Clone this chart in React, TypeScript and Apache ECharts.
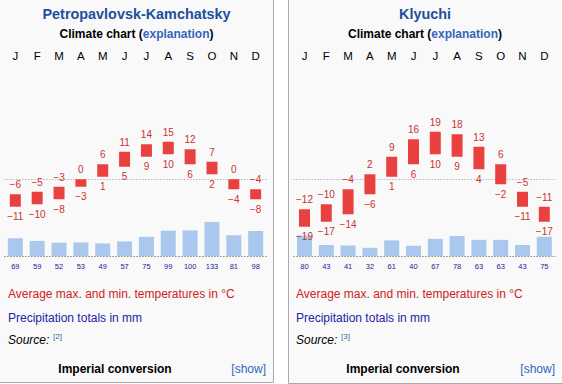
import React, { useEffect, useRef } from "react";
import * as echarts from "echarts";

const months = ["J", "F", "M", "A", "M", "J", "J", "A", "S", "O", "N", "D"];

const petroMax = [-6, -5, -3, 0, 6, 11, 14, 15, 12, 7, 0, -4];
const petroMin = [-11, -10, -8, -3, 1, 5, 9, 10, 6, 2, -4, -8];
const petroPrecip = [69, 59, 52, 53, 49, 57, 75, 99, 100, 133, 81, 98];

const klyuMax = [-12, -10, -4, 2, 9, 16, 19, 18, 13, 6, -5, -11];
const klyuMin = [-19, -17, -14, -6, 1, 6, 10, 9, 4, -2, -11, -17];
const klyuPrecip = [80, 43, 41, 32, 61, 40, 67, 78, 63, 63, 43, 75];

const FONT = "'Liberation Sans', Arial, sans-serif";
const TEMP_LABEL = "#c83232";
const TEMP_BAR = "#e8413f";
const PRECIP_BAR = "#aac8ee";
const PRECIP_LABEL = "#22229a";
const LINK = "#3366bb";
const TITLE = "#20509a";
const DOT = { type: [1, 2] as any, color: "#999", width: 1 };

const fmt = (v: number) => (v < 0 ? "\u2212" + Math.abs(v) : String(v));

function tempSeries(maxArr: number[], minArr: number[], xi: number, yi: number) {
  return {
    type: "custom",
    xAxisIndex: xi,
    yAxisIndex: yi,
    z: 5,
    data: maxArr.map((m, i) => [i, m, minArr[i]]),
    renderItem: (params: any, api: any) => {
      const x = api.value(0);
      const hi = api.value(1);
      const lo = api.value(2);
      const p1 = api.coord([x, hi]);
      const p2 = api.coord([x, lo]);
      const w = 11;
      return {
        type: "group",
        children: [
          {
            type: "rect",
            shape: { x: p1[0] - w / 2, y: p1[1], width: w, height: p2[1] - p1[1] },
            style: { fill: TEMP_BAR },
          },
          {
            type: "text",
            style: {
              text: fmt(hi),
              x: p1[0],
              y: p1[1] - 9.5,
              align: "center",
              verticalAlign: "middle",
              fill: TEMP_LABEL,
              fontSize: 10,
              fontFamily: FONT,
            },
          },
          {
            type: "text",
            style: {
              text: fmt(lo),
              x: p1[0],
              y: p2[1] + 10,
              align: "center",
              verticalAlign: "middle",
              fill: TEMP_LABEL,
              fontSize: 10,
              fontFamily: FONT,
            },
          },
        ],
      };
    },
    markLine: {
      silent: true,
      symbol: "none",
      label: { show: false },
      lineStyle: DOT,
      data: [{ yAxis: 0 }],
    },
  };
}

function precipSeries(arr: number[], xi: number, yi: number) {
  return {
    type: "bar",
    xAxisIndex: xi,
    yAxisIndex: yi,
    z: 2,
    barWidth: 15,
    data: arr,
    itemStyle: { color: PRECIP_BAR },
    label: {
      show: true,
      position: "bottom",
      distance: 6,
      fontSize: 7.5,
      color: PRECIP_LABEL,
      fontFamily: FONT,
    },
  };
}

function panelTexts(x0: number, x1: number, title: string, src: string) {
  const cx = (x0 + x1) / 2;
  const t = (
    x: number,
    y: number,
    text: string,
    fill: string,
    size: number,
    extra: any = {}
  ) => ({
    type: "text",
    x,
    y,
    z: 10,
    style: {
      text,
      fill,
      font: `${extra.style || "normal"} ${extra.weight || "normal"} ${size}px ${FONT}`,
      fontSize: size,
      fontWeight: extra.weight || "normal",
      fontStyle: extra.style || "normal",
      fontFamily: FONT,
      textAlign: extra.align || "left",
      textVerticalAlign: "middle",
    },
  });
  return [
    t(cx, 14, title, TITLE, 14.4, { weight: "bold", align: "center" }),
    {
      type: "text",
      x: cx,
      y: 34,
      z: 10,
      style: {
        text: "{b|Climate chart (}{l|explanation}{b|)}",
        textAlign: "center",
        textVerticalAlign: "middle",
        rich: {
          b: { fontSize: 12, fontWeight: "bold", fill: "#000", color: "#000", fontFamily: FONT },
          l: { fontSize: 12, fontWeight: "bold", fill: LINK, color: LINK, fontFamily: FONT },
        },
      },
    },
    t(x0 + 8, 294, "Average max. and min. temperatures in \u00B0C", "#cc2222", 12),
    t(x0 + 8, 317.5, "Precipitation totals in mm", "#2222aa", 12),
    t(x0 + 8, 340, "Source:", "#000", 12, { style: "italic" }),
    t(x0 + 53, 336, src, LINK, 8),
    t(x0 + 115, 369, "Imperial conversion", "#000", 12, { weight: "bold", align: "center" }),
    t(x1 - 7, 369, "[show]", LINK, 12, { align: "right" }),
  ];
}

export default function App() {
  const ref = useRef<HTMLDivElement>(null);
  useEffect(() => {
    if (!ref.current) return;
    const chart = echarts.init(ref.current, null, { renderer: "svg" });
    const gridTop = 70;
    const gridH = 186;
    const tMin = -30.7;
    const tMax = tMin + gridH / 2.5;
    const pMax = gridH / 0.256;

    const xAxes: any[] = [];
    const yAxes: any[] = [];
    [0, 1].forEach((g) => {
      xAxes.push({
        type: "category",
        gridIndex: g,
        data: months,
        position: "bottom",
        axisLine: { show: true, onZero: false, lineStyle: DOT },
        axisTick: { show: false },
        axisLabel: { show: false },
        splitLine: { show: false },
      });
      xAxes.push({
        type: "category",
        gridIndex: g,
        data: months,
        position: "top",
        axisLine: { show: false },
        axisTick: { show: false },
        axisLabel: { show: true, fontSize: 11.5, color: "#000", fontFamily: FONT, margin: 8, interval: 0 },
        splitLine: { show: false },
      });
      yAxes.push({
        type: "value",
        gridIndex: g,
        min: tMin,
        max: tMax,
        show: false,
        splitLine: { show: false },
      });
      yAxes.push({
        type: "value",
        gridIndex: g,
        min: 0,
        max: pMax,
        show: false,
        splitLine: { show: false },
      });
    });

    chart.setOption({
      animation: false,
      backgroundColor: "#ffffff",
      textStyle: { fontFamily: FONT },
      grid: [
        { left: 4.4, width: 262.2, top: gridTop, height: gridH },
        { left: 293.6, width: 261.6, top: gridTop, height: gridH },
      ],
      xAxis: xAxes,
      yAxis: yAxes,
      graphic: [
        {
          type: "rect",
          z: -10,
          shape: { x: -1.5, y: -1.5, width: 275, height: 384 },
          style: { fill: "#f9f9f9", stroke: "#aaaaaa", lineWidth: 1 },
        },
        {
          type: "rect",
          z: -10,
          shape: { x: 288.5, y: -1.5, width: 276, height: 385 },
          style: { fill: "#f9f9f9", stroke: "#aaaaaa", lineWidth: 1 },
        },
        ...panelTexts(0, 273, "Petropavlovsk-Kamchatsky", "[2]"),
        ...panelTexts(288, 562, "Klyuchi", "[3]"),
      ],
      series: [
        precipSeries(petroPrecip, 0, 1),
        tempSeries(petroMax, petroMin, 0, 0),
        precipSeries(klyuPrecip, 2, 3),
        tempSeries(klyuMax, klyuMin, 2, 2),
      ],
    });
    return () => chart.dispose();
  }, []);
  return (
    <div
      ref={ref}
      style={{ position: "fixed", left: 0, top: 0, width: 562, height: 384 }}
    />
  );
}
